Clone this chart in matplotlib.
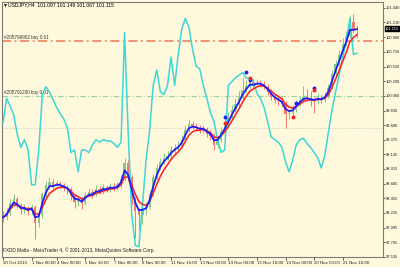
import numpy as np
import pandas as pd
import matplotlib
matplotlib.use('Agg')
import matplotlib.pyplot as plt

plt.rcParams['font.family'] = ['Liberation Sans', 'DejaVu Sans']

# USDJPY H4 candles (30 Oct 2013 .. 21 Nov 2013)
closes = [98.156, 98.218, 98.375, 98.437, 98.343, 98.265, 98.296, 98.250, 98.312, 98.062,
          98.187, 98.515, 98.656, 98.718, 98.640, 98.687, 98.656, 98.625, 98.594, 98.484,
          98.390, 98.437, 98.375, 98.500, 98.546, 98.515, 98.594, 98.562, 98.625, 98.594,
          98.640, 98.609, 98.656, 98.750, 99.015, 98.781, 98.437, 98.250, 98.187, 98.281,
          98.312, 98.515, 98.781, 98.937, 99.031, 99.093, 99.125, 99.218, 99.250, 99.281,
          99.375, 99.531, 99.625, 99.594, 99.562, 99.531, 99.547, 99.468, 99.437, 99.297,
          99.375, 99.500, 99.609, 99.718, 99.843, 99.937, 100.031, 100.156, 100.219, 100.281,
          100.234, 100.265, 100.250, 100.203, 100.125, 100.046, 100.000, 99.984, 99.937, 99.781,
          99.797, 99.843, 99.937, 100.000, 100.046, 100.031, 100.000, 99.984, 100.031, 100.000,
          100.062, 100.187, 100.406, 100.562, 100.703, 100.875, 101.000, 101.219, 101.094, 101.115]
first_open = 98.200
highs = [98.25, 98.30, 98.45, 98.53, 98.48, 98.38, 98.36, 98.34, 98.37, 98.35,
         98.25, 98.56, 98.72, 98.79, 98.76, 98.74, 98.73, 98.70, 98.66, 98.63,
         98.52, 98.48, 98.47, 98.56, 98.62, 98.60, 98.66, 98.64, 98.68, 98.67,
         98.70, 98.69, 98.71, 98.82, 99.09, 99.05, 98.82, 98.47, 98.31, 98.35,
         98.40, 98.58, 98.84, 99.00, 99.09, 99.17, 99.19, 99.28, 99.31, 99.35,
         99.44, 99.60, 99.69, 99.67, 99.64, 99.60, 99.61, 99.58, 99.52, 99.48,
         99.43, 99.57, 99.69, 99.80, 99.92, 100.02, 100.13, 100.36, 100.31, 100.34,
         100.32, 100.33, 100.31, 100.30, 100.24, 100.17, 100.09, 100.06, 100.04, 99.98,
         99.86, 99.91, 99.99, 100.06, 100.21, 100.17, 100.13, 100.05, 100.09, 100.08,
         100.12, 100.25, 100.47, 100.62, 100.78, 100.96, 101.08, 101.33, 101.34, 101.17]
lows = [98.09, 98.12, 98.19, 98.33, 98.30, 98.21, 98.22, 98.20, 98.21, 97.81,
        98.00, 98.15, 98.48, 98.62, 98.60, 98.61, 98.62, 98.57, 98.53, 98.43,
        98.30, 98.34, 98.29, 98.35, 98.47, 98.46, 98.49, 98.52, 98.53, 98.55,
        98.56, 98.57, 98.58, 98.62, 98.72, 98.72, 98.36, 97.84, 97.96, 98.05,
        98.20, 98.28, 98.49, 98.74, 98.90, 98.99, 99.06, 99.09, 99.17, 99.20,
        99.25, 99.34, 99.50, 99.54, 99.51, 99.48, 99.48, 99.41, 99.37, 99.21,
        99.24, 99.33, 99.46, 99.57, 99.69, 99.80, 99.89, 100.00, 100.11, 100.17,
        100.19, 100.20, 100.20, 100.16, 100.08, 99.99, 99.95, 99.92, 99.88, 99.55,
        99.70, 99.73, 99.80, 99.90, 99.96, 99.98, 99.90, 99.79, 99.94, 99.95,
        99.96, 100.03, 100.16, 100.36, 100.53, 100.66, 100.84, 100.96, 101.05, 100.96]

# oscillator drawn in cyan, on its own scale
osc = [104, 123, 117, 110, 95, 85, 91, 83, 56, 56,
       83, 126, 132, 128, 122, 116, 111, 107, 100, 81,
       83, 66, 83, 83, 81, 87, 91, 89, 91, 90,
       90, 88, 85, 89, 174, 97, 33, 9, 8, 40,
       75, 98, 133, 145, 128, 126, 133, 155, 133, 157,
       177, 185, 178, 161, 148, 146, 133, 123, 112, 105,
       91, 81, 83, 133, 136, 139, 141, 143, 139, 138,
       137, 127, 123, 116, 105, 93, 91, 89, 85, 74,
       66, 75, 87, 91, 92, 88, 85, 81, 77, 69,
       79, 97, 114, 128, 141, 155, 168, 185, 157, 158]
osc_level = 100

# fractal-like dots
blue_dot_bars = [62, 68, 69, 82, 87]
blue_dot_prices = [99.734, 100.437, 100.312, 99.953, 100.187]
red_dot_bars = [62, 69, 81, 87]
red_dot_prices = [99.640, 100.344, 99.734, 100.156]

order_sell = 100.92
order_buy = 100.06
last_price = 101.115

time_bars = [0, 8, 15, 23, 31, 39, 47, 55, 63, 71, 79, 87, 95]
time_labels = ['30 Oct 2013', '1 Nov 00:00', '4 Nov 00:00', '5 Nov 16:00', '7 Nov 00:00',
               '8 Nov 00:00', '11 Nov 16:00', '13 Nov 00:00', '14 Nov 00:00', '15 Nov 16:00',
               '19 Nov 00:00', '20 Nov 00:00', '21 Nov 16:00']
price_ticks = [97.535, 97.765, 97.995, 98.225, 98.455, 98.685, 98.915, 99.145, 99.375,
               99.600, 99.830, 100.060, 100.290, 100.520, 100.750, 100.980, 101.210, 101.440]

BG = '#fef8dd'
GREEN = '#84c884'
RED = '#f27a68'

df = pd.DataFrame({'close': closes, 'high': highs, 'low': lows})
df['open'] = [first_open] + closes[:-1]
x = np.arange(len(df))
fast = df['close'].ewm(alpha=0.6).mean()
slow = df['close'].ewm(alpha=0.35).mean()

fig = plt.figure(figsize=(4, 2.67), dpi=100, facecolor=BG)
ax = fig.add_axes([2 / 400, 10 / 267, 381 / 400, 255 / 267], facecolor=BG)
ax.set_xlim(-0.28, 106.26)
ax.set_ylim(97.546, 101.531)

ax2 = ax.twinx()
ax2.set_ylim(0, 197.7)
ax2.axis('off')

# candles
up = df['close'] >= df['open']
cols = np.where(up, GREEN, RED)
ax.vlines(x, df['low'], df['high'], colors=cols, linewidth=0.7, zorder=2)
body_lo = np.minimum(df['open'], df['close'])
body_h = np.maximum((df['close'] - df['open']).abs(), 0.008)
ax.bar(x, body_h, bottom=body_lo, width=0.62, color=cols, linewidth=0, zorder=2)

# order lines
ax.axhline(order_sell, color='#ef8a6c', linestyle=(0, (5, 2, 1, 2)), linewidth=1.3, zorder=1)
ax.axhline(order_buy, color='#9ad69a', linestyle=(0, (5, 2, 1, 2)), linewidth=0.8, zorder=1)
ax.text(0.005, order_sell + 0.02, '#205799902 buy 0.01', transform=ax.get_yaxis_transform(),
        fontsize=3.3, color='#333333', va='bottom', ha='left')
ax.text(0.005, order_buy + 0.02, '#205791200 buy 0.01', transform=ax.get_yaxis_transform(),
        fontsize=3.3, color='#333333', va='bottom', ha='left')

# oscillator
ax.plot([-1, 110], [osc_level, osc_level], color='#d2cdbf', linestyle=(0, (1, 1.5)),
        linewidth=0.7, transform=ax2.transData, zorder=1)
ax.plot(x, osc, color='#3ed6d6', linewidth=1.1, transform=ax2.transData, zorder=3)

# moving averages
ax.plot(x, slow, color='#ff1e1e', linewidth=1.1, zorder=4)
ax.plot(x, fast, color='#1e1eff', linewidth=1.3, zorder=5)
ax.plot(blue_dot_bars, blue_dot_prices, 'o', color='#1e1eff', markersize=1.8, zorder=6)
ax.plot(red_dot_bars, red_dot_prices, 'o', color='#ff1e1e', markersize=1.8, zorder=6)

# axes styling
for s in ax.spines.values():
    s.set_color('#7a7a7a')
    s.set_linewidth(0.8)
ax.yaxis.tick_right()
ax.set_yticks(price_ticks)
ax.set_yticklabels([f'{p:.3f}' for p in price_ticks])
ax.tick_params(axis='y', length=1.5, width=0.5, pad=0.4, labelsize=2.9, colors='#222222')
ax.set_xticks(time_bars)
ax.set_xticklabels(time_labels, ha='left')
ax.tick_params(axis='x', length=2, width=0.5, pad=0.8, labelsize=3.2, colors='#222222')

# current price marker
ax.annotate(f'{last_price:.3f}', xy=(1.0, last_price), xycoords=ax.get_yaxis_transform(),
            xytext=(1.4, 0), textcoords='offset points', fontsize=2.9, color='white',
            va='center', ha='left',
            bbox=dict(boxstyle='square,pad=0.1', fc='black', ec='black'))

fig.text(3 / 400, 1 - 5 / 267, '\u25bcUSDJPY,H4  101.097 101.149 101.067 101.115',
         fontsize=3.6, color='black', va='center', ha='left')
fig.text(3 / 400, 1 - 250 / 267,
         'FXDD Malta - MetaTrader 4, \u00a9 2001-2013, MetaQuotes Software Corp.',
         fontsize=3.4, color='#222222', va='center', ha='left')

fig.savefig('out.png', dpi=100, facecolor=BG)
